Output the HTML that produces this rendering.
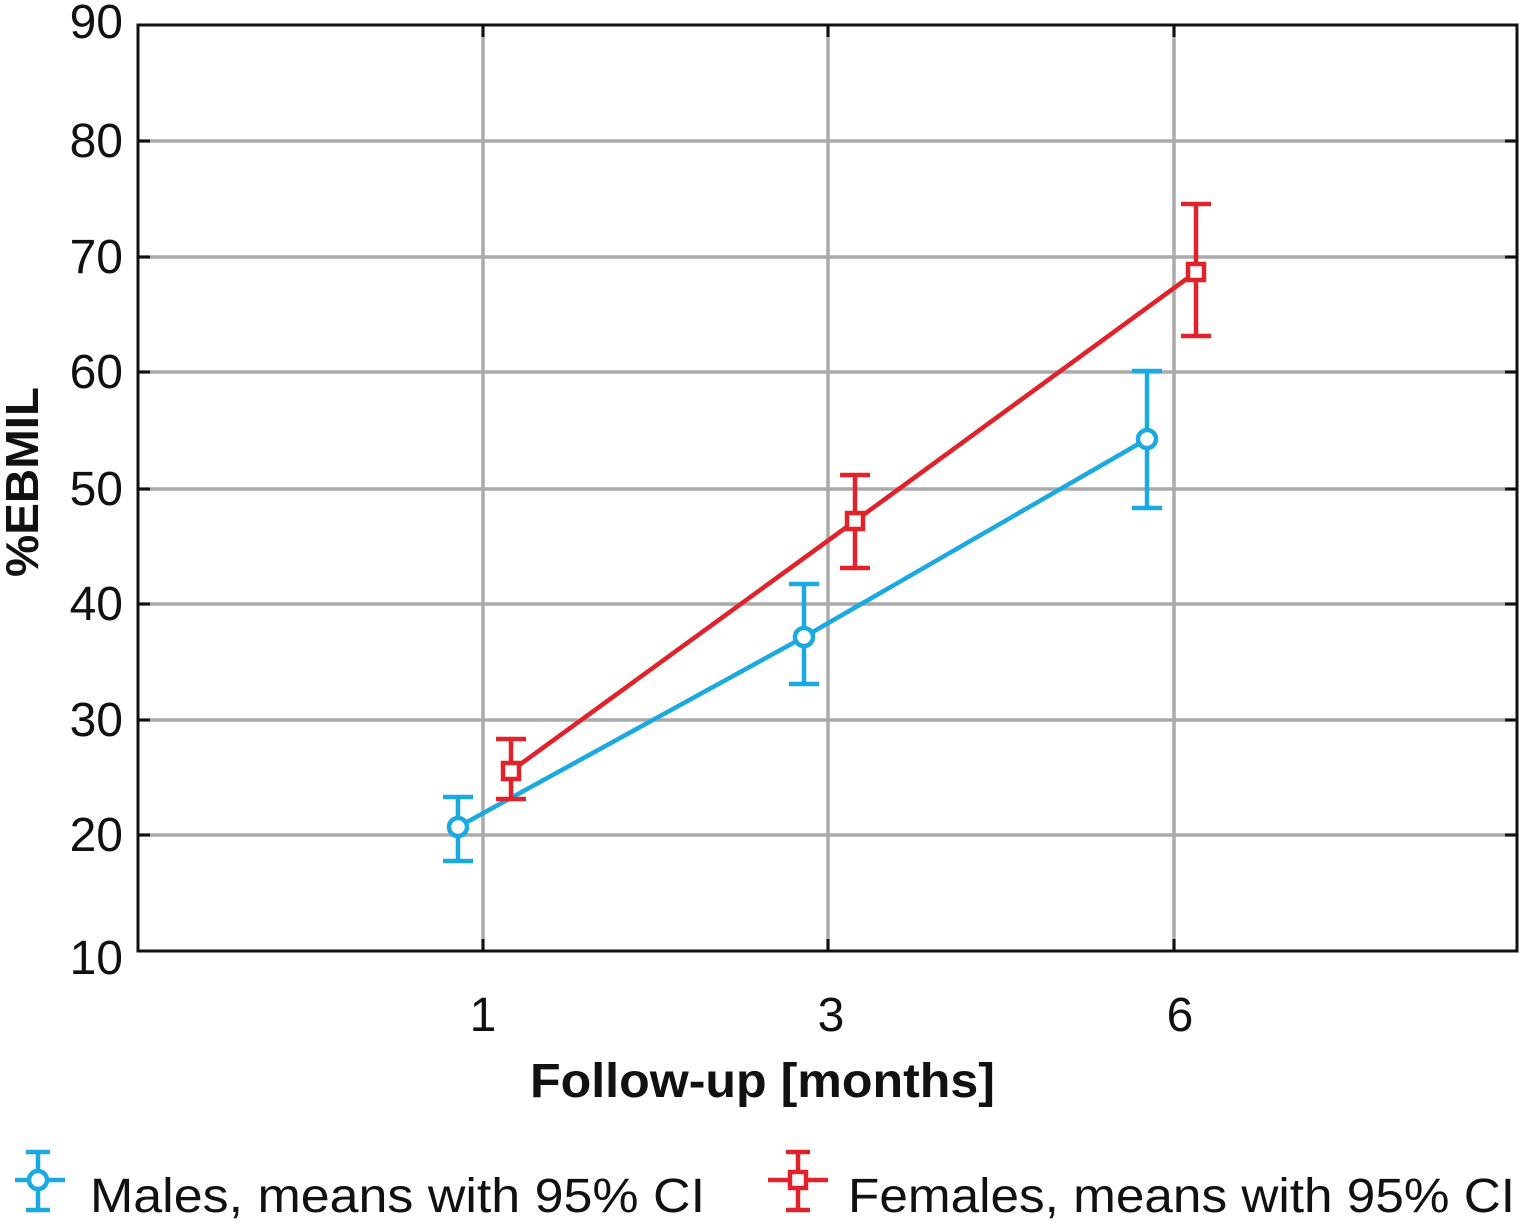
<!DOCTYPE html>
<html><head><meta charset="utf-8"><style>
html,body{margin:0;padding:0;background:#fff;}
svg text{font-family:"Liberation Sans",sans-serif;}
</style></head><body>
<svg width="1519" height="1221" viewBox="0 0 1519 1221" xmlns="http://www.w3.org/2000/svg">
<g stroke="#aaa" stroke-width="3.5">
<line x1="138" y1="141" x2="1517" y2="141"/><line x1="138" y1="257" x2="1517" y2="257"/>
<line x1="138" y1="372" x2="1517" y2="372"/><line x1="138" y1="489" x2="1517" y2="489"/>
<line x1="138" y1="604" x2="1517" y2="604"/><line x1="138" y1="720" x2="1517" y2="720"/>
<line x1="138" y1="835" x2="1517" y2="835"/>
<line x1="483" y1="25" x2="483" y2="951"/><line x1="828" y1="25" x2="828" y2="951"/><line x1="1174" y1="25" x2="1174" y2="951"/>
</g>
<g stroke="#111" stroke-width="3">
<line x1="138" y1="141" x2="150" y2="141"/><line x1="138" y1="257" x2="150" y2="257"/><line x1="138" y1="372" x2="150" y2="372"/><line x1="138" y1="489" x2="150" y2="489"/><line x1="138" y1="604" x2="150" y2="604"/><line x1="138" y1="720" x2="150" y2="720"/><line x1="138" y1="835" x2="150" y2="835"/>
<line x1="1505" y1="141" x2="1517" y2="141"/><line x1="1505" y1="257" x2="1517" y2="257"/><line x1="1505" y1="372" x2="1517" y2="372"/><line x1="1505" y1="489" x2="1517" y2="489"/><line x1="1505" y1="604" x2="1517" y2="604"/><line x1="1505" y1="720" x2="1517" y2="720"/><line x1="1505" y1="835" x2="1517" y2="835"/>
<line x1="483" y1="25" x2="483" y2="37"/><line x1="828" y1="25" x2="828" y2="37"/><line x1="1174" y1="25" x2="1174" y2="37"/>
<line x1="483" y1="939" x2="483" y2="951"/><line x1="828" y1="939" x2="828" y2="951"/><line x1="1174" y1="939" x2="1174" y2="951"/>
</g>
<rect x="138" y="25" width="1379" height="926" fill="none" stroke="#111" stroke-width="3"/>
<g font-size="48" text-anchor="end" fill="#111">
<text x="123" y="38">90</text><text x="123" y="157">80</text><text x="123" y="273">70</text><text x="123" y="388">60</text><text x="123" y="505">50</text><text x="123" y="620">40</text><text x="123" y="736">30</text><text x="123" y="851">20</text><text x="123" y="974">10</text>
</g>
<g font-size="48" text-anchor="middle" fill="#111">
<text x="483" y="1031">1</text><text x="831" y="1031">3</text><text x="1180" y="1031">6</text>
</g>
<text x="530" y="1097" font-size="48" font-weight="bold" fill="#111" textLength="465" lengthAdjust="spacingAndGlyphs">Follow-up [months]</text>
<text transform="translate(38,482) rotate(-90)" font-size="46" font-weight="bold" text-anchor="middle" fill="#111" textLength="190" lengthAdjust="spacingAndGlyphs">%EBMIL</text>
<g stroke="#1aa9e1" stroke-width="4.5" fill="none">
<polyline points="458,827 804,637 1147,439"/>
<line x1="458" y1="797" x2="458" y2="861"/><line x1="443" y1="797" x2="473" y2="797"/><line x1="443" y1="861" x2="473" y2="861"/>
<line x1="804" y1="584" x2="804" y2="684"/><line x1="789" y1="584" x2="819" y2="584"/><line x1="789" y1="684" x2="819" y2="684"/>
<line x1="1147" y1="371" x2="1147" y2="508"/><line x1="1132" y1="371" x2="1162" y2="371"/><line x1="1132" y1="508" x2="1162" y2="508"/>
<circle cx="458" cy="827" r="9" fill="#fff"/><circle cx="804" cy="637" r="9" fill="#fff"/><circle cx="1147" cy="439" r="9" fill="#fff"/>
</g>
<g stroke="#e2222a" stroke-width="4.5" fill="none">
<polyline points="511,771 855,521 1196,272"/>
<line x1="511" y1="739" x2="511" y2="799"/><line x1="496" y1="739" x2="526" y2="739"/><line x1="496" y1="799" x2="526" y2="799"/>
<line x1="855" y1="475" x2="855" y2="568"/><line x1="840" y1="475" x2="870" y2="475"/><line x1="840" y1="568" x2="870" y2="568"/>
<line x1="1196" y1="204" x2="1196" y2="336"/><line x1="1181" y1="204" x2="1211" y2="204"/><line x1="1181" y1="336" x2="1211" y2="336"/>
<rect x="503" y="763" width="16" height="16" fill="#fff"/><rect x="847" y="513" width="16" height="16" fill="#fff"/><rect x="1188" y="264" width="16" height="16" fill="#fff"/>
</g>
<g stroke="#1aa9e1" stroke-width="4.5" fill="none">
<line x1="15" y1="1180" x2="65" y2="1180"/><line x1="38" y1="1152" x2="38" y2="1210"/><line x1="26" y1="1152" x2="50" y2="1152"/><line x1="26" y1="1210" x2="50" y2="1210"/>
<circle cx="38" cy="1180" r="9" fill="#fff"/>
</g>
<text x="90" y="1212" font-size="48" fill="#111" textLength="615" lengthAdjust="spacingAndGlyphs">Males, means with 95% CI</text>
<g stroke="#e2222a" stroke-width="4.5" fill="none">
<line x1="768" y1="1180" x2="828" y2="1180"/><line x1="798" y1="1152" x2="798" y2="1210"/><line x1="786" y1="1152" x2="810" y2="1152"/><line x1="786" y1="1210" x2="810" y2="1210"/>
<rect x="790" y="1172" width="16" height="16" fill="#fff"/>
</g>
<text x="848" y="1212" font-size="48" fill="#111" textLength="667" lengthAdjust="spacingAndGlyphs">Females, means with 95% CI</text>
</svg>
</body></html>
